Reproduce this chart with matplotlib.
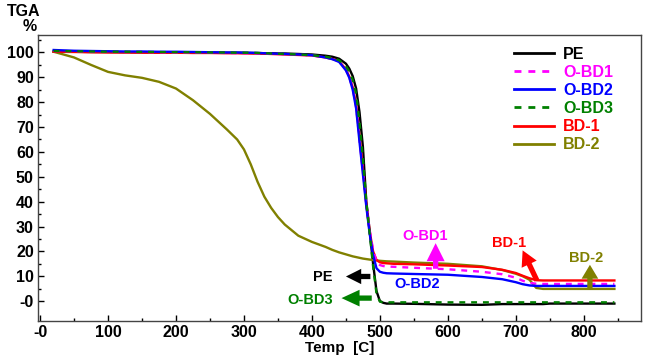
import matplotlib
matplotlib.use("Agg")
import matplotlib.pyplot as plt
from matplotlib.lines import Line2D

plt.rcParams['font.family'] = ['Liberation Sans', 'DejaVu Sans']
plt.rcParams['font.weight'] = 'bold'

# shared temperature grid [C]
temp = [20, 50, 75, 100, 125, 150, 175, 200, 225, 250, 275, 290, 300, 310, 320, 330, 340, 350, 360,
        380, 400, 420, 430, 440, 450, 455, 460, 465, 470, 475, 480, 485, 490, 495, 500, 505, 510,
        520, 550, 600, 650, 680, 700, 710, 720, 730, 740, 750, 800, 845]

pe = [100.3, 100.3, 100.2, 100.2, 100.1, 100.1, 100.0, 100.0, 100.0, 100.0, 99.9, 99.9, 99.9,
      99.8, 99.8, 99.7, 99.7, 99.6, 99.6,
      99.4, 99.2, 98.7, 98.3, 97.5, 95.5, 93.5, 90.5, 85.5, 76.0, 62.0, 40.0, 28.0, 15.0, 4.0,
      0.0, -0.7, -1.0,
      -1.0, -1.1, -1.4, -1.5, -1.2, -1.2, -1.2, -1.2, -1.2, -1.2, -1.0, -1.0, -1.0]
obd1 = [100.6, 100.5, 100.4, 100.3, 100.2, 100.2, 100.1, 100.0, 100.0, 99.9, 99.8, 99.7, 99.7,
        99.6, 99.6, 99.5, 99.5, 99.4, 99.3,
        99.1, 98.8, 98.0, 97.4, 96.4, 93.0, 90.0, 85.5, 78.0, 65.0, 52.0, 39.0, 28.5, 20.5, 15.8,
        14.5, 14.1, 13.9,
        13.8, 13.4, 12.8, 11.8, 10.8, 9.4, 8.2, 7.3, 7.0, 6.9, 6.9, 6.9, 6.9]
obd2 = [101.0, 100.7, 100.6, 100.5, 100.4, 100.4, 100.3, 100.3, 100.2, 100.1, 100.0, 100.0, 99.9,
        99.9, 99.8, 99.7, 99.6, 99.5, 99.4,
        99.2, 98.9, 98.0, 97.3, 96.2, 92.8, 89.8, 85.0, 77.5, 64.0, 51.0, 38.0, 27.0, 18.5, 13.2,
        11.8, 11.4, 11.2,
        11.1, 10.9, 10.6, 9.7, 8.8, 7.6, 6.8, 6.3, 6.1, 6.1, 6.1, 6.1, 6.1]
obd3 = [100.6, 100.5, 100.4, 100.3, 100.3, 100.2, 100.2, 100.1, 100.1, 100.0, 100.0, 99.9, 99.9,
        99.9, 99.8, 99.7, 99.6, 99.5, 99.4,
        99.2, 98.9, 98.3, 97.8, 96.9, 94.5, 92.3, 89.0, 83.5, 72.0, 57.0, 40.0, 27.0, 14.0, 3.0,
        -0.2, -0.5, -0.5,
        -0.5, -0.5, -0.5, -0.5, -0.5, -0.5, -0.5, -0.5, -0.5, -0.5, -0.5, -0.5, -0.5]
bd1 = [100.3, 100.2, 100.1, 100.0, 100.0, 99.9, 99.9, 99.9, 99.8, 99.8, 99.7, 99.7, 99.6,
       99.6, 99.5, 99.5, 99.4, 99.3, 99.2,
       99.0, 98.8, 98.0, 97.4, 96.5, 93.2, 90.3, 86.0, 79.0, 66.0, 53.0, 39.0, 28.0, 20.0, 16.5,
       15.6, 15.3, 15.2,
       15.0, 14.8, 14.3, 13.7, 12.6, 11.3, 10.2, 9.2, 8.4, 8.3, 8.3, 8.3, 8.3]
bd2 = [100.3, 98.0, 95.0, 92.2, 90.8, 89.8, 88.2, 85.5, 80.8, 75.3, 69.0, 65.0, 61.0,
       55.0, 48.0, 42.0, 37.5, 33.8, 30.8,
       26.3, 23.8, 21.8, 20.6, 19.6, 18.8, 18.4, 18.0, 17.7, 17.4, 17.1, 16.9, 16.7, 16.5, 16.4,
       16.2, 16.1, 16.0,
       15.9, 15.5, 15.0, 14.0, 12.5, 11.0, 10.0, 8.6, 5.3, 4.9, 4.9, 4.9, 4.9]

names = ['PE', 'O-BD1', 'O-BD2', 'O-BD3', 'BD-1', 'BD-2']
colors = ['#000000', '#ff00ff', '#0000ff', '#008000', '#ff0000', '#808000']
styles = ['-', '--', '-', '--', '-', '-']

xticks = [0, 100, 200, 300, 400, 500, 600, 700, 800]
xticklabels = ['-0', '100', '200', '300', '400', '500', '600', '700', '800']
yticks = [0, 10, 20, 30, 40, 50, 60, 70, 80, 90, 100]
yticklabels = ['-0', '10', '20', '30', '40', '50', '60', '70', '80', '90', '100']

fig = plt.figure(figsize=(6.5, 3.58), dpi=100)
ax = fig.add_axes([0.0585, 0.1034, 0.9275, 0.7986])

series = dict(zip(names, [pe, obd1, obd2, obd3, bd1, bd2]))
draw_order = ['PE', 'BD-2', 'BD-1', 'O-BD1', 'O-BD2', 'O-BD3']
for name in draw_order:
    i = names.index(name)
    ls = styles[i]
    kw = dict(dashes=(2.5, 2.5)) if ls == '--' else {}
    ax.plot(temp, series[name], color=colors[i], lw=1.7, linestyle=ls, **kw)

ax.set_xlim(-3, 884)
ax.set_ylim(-8, 107)
ax.set_xticks(xticks)
ax.set_xticklabels(xticklabels)
ax.set_xticks(range(50, 851, 100), minor=True)
ax.set_yticks(yticks)
ax.set_yticklabels(yticklabels)
ax.set_yticks(range(5, 106, 10), minor=True)
ax.tick_params(direction='in', length=4, width=1, labelsize=11.5, pad=3)
ax.tick_params(which='minor', direction='in', length=2.5, width=1)
for lab in ax.get_xticklabels() + ax.get_yticklabels():
    lab.set_fontweight('bold')
for s in ax.spines.values():
    s.set_color('#444444')
    s.set_linewidth(1)

# legend
handles = []
for i, n in enumerate(names):
    kw = dict(dashes=(2.5, 2.5)) if styles[i] == '--' else {}
    handles.append(Line2D([], [], color=colors[i], lw=2, linestyle=styles[i], **kw))
leg = ax.legend(handles, names, loc='upper left', bbox_to_anchor=(0.776, 0.988),
                frameon=False, handlelength=2.5, handletextpad=0.6, labelspacing=0.2,
                borderpad=0, prop=dict(size=11.5, weight='bold'))
for t, c in zip(leg.get_texts(), colors):
    t.set_color(c)

# annotations: label text and block arrows
labels = [('O-BD1', 566, 26.2, '#ff00ff'), ('BD-1', 690, 23.4, '#ff0000'),
          ('BD-2', 803, 17.4, '#808000'), ('PE', 416, 9.8, '#000000'),
          ('O-BD2', 555, 7.0, '#0000ff'), ('O-BD3', 398, 0.5, '#008000')]
for txt, x, y, c in labels:
    ax.text(x, y, txt, color=c, fontsize=10.5, fontweight='bold', ha='center', va='center')

arrows = [((582, 23.3), (582, 13.0), '#ff00ff', 13, 13),
          ((710, 20.4), (731, 8.3), '#ff0000', 12, 11),
          ((809, 14.6), (809, 4.9), '#808000', 12, 10),
          ((450, 9.9), (486, 9.9), '#000000', 11, 11),
          ((443.5, 1.2), (488, 1.2), '#008000', 12, 13)]
for tip, tail, c, hw, hl in arrows:
    ax.annotate('', xy=tip, xytext=tail,
                arrowprops=dict(arrowstyle=f'simple,head_width={hw/10},head_length={hl/10},tail_width=0.38',
                                mutation_scale=10, color=c, shrinkA=0, shrinkB=0, lw=0))

fig.text(0.523, 0.029, 'Temp  [C]', ha='center', va='center', fontsize=11, fontweight='bold')
fig.text(0.037, 0.969, 'TGA', ha='center', va='center', fontsize=11.5, fontweight='bold')
fig.text(0.045, 0.925, '%', ha='center', va='center', fontsize=11.5, fontweight='bold')

fig.savefig('out.png', dpi=100)
